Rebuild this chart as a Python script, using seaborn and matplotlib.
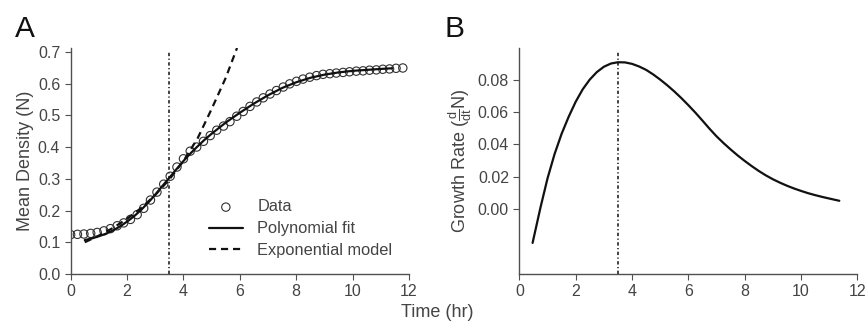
"""Curva de crecimiento: densidad media (A) y tasa de crecimiento (B)."""

import matplotlib

matplotlib.use("Agg")
import matplotlib.pyplot as plt
import pandas as pd
import seaborn as sns

# Datos medidos (panel A)
tiempo_datos = [
    0.00, 0.24, 0.47, 0.71, 0.94, 1.18, 1.41, 1.65, 1.88, 2.12, 2.36, 2.59, 2.83,
    3.06, 3.30, 3.53, 3.77, 4.00, 4.24, 4.47, 4.71, 4.95, 5.18, 5.42, 5.65, 5.89,
    6.12, 6.36, 6.60, 6.83, 7.07, 7.30, 7.54, 7.77, 8.01, 8.24, 8.48, 8.72, 8.95,
    9.19, 9.42, 9.66, 9.89, 10.13, 10.37, 10.60, 10.84, 11.07, 11.31, 11.54, 11.78,
]
densidad_datos = [
    0.124, 0.125, 0.126, 0.128, 0.131, 0.136, 0.143, 0.152, 0.161, 0.172, 0.187,
    0.207, 0.233, 0.258, 0.283, 0.308, 0.337, 0.363, 0.387, 0.400, 0.418, 0.436,
    0.453, 0.466, 0.480, 0.497, 0.512, 0.528, 0.542, 0.555, 0.567, 0.578, 0.589,
    0.599, 0.607, 0.614, 0.620, 0.625, 0.629, 0.631, 0.633, 0.635, 0.637, 0.639,
    0.640, 0.642, 0.643, 0.645, 0.646, 0.648, 0.649,
]

# Ajuste polinomico
tiempo_ajuste = [
    0.5, 0.75, 1.0, 1.25, 1.5, 1.75, 2.0, 2.25, 2.5, 2.75, 3.0, 3.25, 3.5, 3.75,
    4.0, 4.25, 4.5, 4.75, 5.0, 5.5, 6.0, 6.5, 7.0, 7.5, 8.0, 8.5, 9.0, 9.5, 10.0,
    10.5, 11.0, 11.4,
]
densidad_ajuste = [
    0.107, 0.112, 0.119, 0.127, 0.137, 0.150, 0.165, 0.182, 0.202, 0.225, 0.250,
    0.277, 0.303, 0.330, 0.356, 0.380, 0.402, 0.423, 0.442, 0.477, 0.508, 0.537,
    0.563, 0.586, 0.604, 0.618, 0.628, 0.635, 0.640, 0.643, 0.646, 0.648,
]

# Modelo exponencial
tiempo_exp = [0.5, 1.0, 1.5, 2.0, 2.5, 3.0, 3.5, 4.0, 4.5, 5.0, 5.5, 5.9]
densidad_exp = [0.100, 0.121, 0.145, 0.174, 0.208, 0.249, 0.298, 0.356, 0.427, 0.520, 0.618, 0.712]

# Tasa de crecimiento (panel B)
tiempo_tasa = [
    0.47, 0.75, 1.0, 1.25, 1.5, 1.75, 2.0, 2.25, 2.5, 2.75, 3.0, 3.25, 3.5, 3.75,
    4.0, 4.25, 4.5, 4.75, 5.0, 5.25, 5.5, 5.75, 6.0, 6.25, 6.5, 6.75, 7.0, 7.25,
    7.5, 7.75, 8.0, 8.25, 8.5, 8.75, 9.0, 9.25, 9.5, 9.75, 10.0, 10.25, 10.5,
    10.75, 11.0, 11.36,
]
tasa = [
    -0.0208, 0.0010, 0.0190, 0.0340, 0.0465, 0.0570, 0.0663, 0.0740, 0.0800,
    0.0846, 0.0879, 0.0899, 0.0907, 0.0906, 0.0897, 0.0881, 0.0860, 0.0832,
    0.0800, 0.0765, 0.0727, 0.0686, 0.0642, 0.0596, 0.0547, 0.0497, 0.0450,
    0.0408, 0.0369, 0.0332, 0.0298, 0.0266, 0.0236, 0.0209, 0.0185, 0.0164,
    0.0145, 0.0128, 0.0113, 0.0099, 0.0087, 0.0076, 0.0066, 0.0052,
]

t_max_tasa = 3.5

GRIS = "#505050"
TEXTO = "#444444"

sns.set_style("ticks")
plt.rcParams["font.family"] = ["Liberation Sans", "DejaVu Sans"]
plt.rcParams["mathtext.fontset"] = "custom"
plt.rcParams["mathtext.rm"] = "Liberation Sans"
plt.rcParams["mathtext.it"] = "Liberation Sans"
plt.rcParams.update({
    "axes.edgecolor": GRIS,
    "axes.linewidth": 1.0,
    "xtick.color": GRIS,
    "ytick.color": GRIS,
    "xtick.labelcolor": TEXTO,
    "ytick.labelcolor": TEXTO,
    "axes.labelcolor": TEXTO,
    "xtick.major.size": 4,
    "ytick.major.size": 4,
    "xtick.labelsize": 11.5,
    "ytick.labelsize": 11.5,
    "axes.labelsize": 13,
})

df_datos = pd.DataFrame({"t": tiempo_datos, "N": densidad_datos})
df_ajuste = pd.DataFrame({"t": tiempo_ajuste, "N": densidad_ajuste})
df_exp = pd.DataFrame({"t": tiempo_exp, "N": densidad_exp})
df_tasa = pd.DataFrame({"t": tiempo_tasa, "r": tasa})

fig = plt.figure(figsize=(8.66, 3.22), dpi=100)
ax_a = fig.add_axes([0.0816, 0.149, 0.3907, 0.702])
ax_b = fig.add_axes([0.5997, 0.149, 0.3903, 0.702])

estilo_vline = (0, (2.2, 1.6, 0.8, 1.6))

# Panel A
sns.scatterplot(data=df_datos, x="t", y="N", ax=ax_a, marker="o", s=36,
                facecolor="none", edgecolor="#303030", linewidth=0.8,
                label="Data", zorder=2)
sns.lineplot(data=df_ajuste, x="t", y="N", ax=ax_a, color="#111111",
             linewidth=1.6, label="Polynomial fit", zorder=3)
sns.lineplot(data=df_exp, x="t", y="N", ax=ax_a, color="#111111",
             linewidth=1.6, linestyle=(0, (3.2, 2.2)), label="Exponential model",
             zorder=3)
ax_a.plot([t_max_tasa, t_max_tasa], [0, 0.70], color="#111111", linewidth=1.1,
          linestyle=estilo_vline, zorder=1)
ax_a.set_xlim(0, 12)
ax_a.set_ylim(0, 0.712)
ax_a.set_xticks([0, 2, 4, 6, 8, 10, 12])
ax_a.set_yticks([0.0, 0.1, 0.2, 0.3, 0.4, 0.5, 0.6, 0.7])
ax_a.set_yticklabels([f"{v:.1f}" for v in ax_a.get_yticks()])
ax_a.set_xlabel("")
ax_a.set_ylabel("Mean Density (N)", labelpad=3)
ax_a.legend(loc="lower left", bbox_to_anchor=(0.409, 0.07), frameon=False,
            handlelength=2.05, handletextpad=0.9, labelspacing=0.42,
            borderaxespad=0, borderpad=0, fontsize=11.8, labelcolor=TEXTO)
sns.despine(ax=ax_a)

# Panel B
sns.lineplot(data=df_tasa, x="t", y="r", ax=ax_b, color="#111111", linewidth=1.6)
ax_b.plot([t_max_tasa, t_max_tasa], [-0.04, 0.097], color="#111111",
          linewidth=1.1, linestyle=estilo_vline, zorder=1)
ax_b.set_xlim(0, 12)
ax_b.set_ylim(-0.04, 0.0995)
ax_b.set_xticks([0, 2, 4, 6, 8, 10, 12])
ax_b.set_yticks([0.00, 0.02, 0.04, 0.06, 0.08])
ax_b.set_yticklabels([f"{v:.2f}" for v in ax_b.get_yticks()])
ax_b.set_xlabel("")
ax_b.set_ylabel(r"Growth Rate ($\frac{\mathrm{d}}{\mathrm{dt}}$N)", labelpad=3)
sns.despine(ax=ax_b)

fig.text(0.505, 0.017, "Time (hr)", ha="center", va="baseline", fontsize=13,
         color=TEXTO)
fig.text(0.017, 0.885, "A", fontsize=21.5, color="#111111", ha="left", va="baseline")
fig.text(0.513, 0.885, "B", fontsize=21.5, color="#111111", ha="left", va="baseline")

fig.savefig("out.png", dpi=100)
